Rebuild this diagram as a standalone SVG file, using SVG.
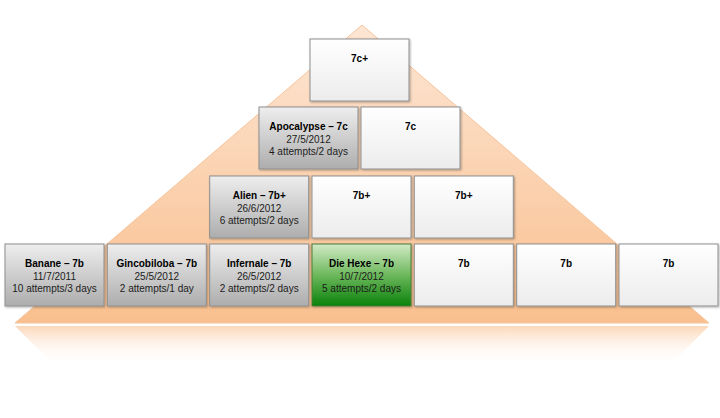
<svg xmlns="http://www.w3.org/2000/svg" width="720" height="418" viewBox="0 0 720 418">
  <style>
    .box { stroke: #8f8f8f; stroke-width: 1; filter: url(#shadow); }
    .gray { fill: url(#gGray); }
    .green { fill: url(#gGreen); stroke: #4a7a3a; }
    .white { fill: url(#gWhite); }
    text { font-family: "Liberation Sans", Arial, sans-serif; font-size: 10px; fill: #1c1c1c; text-anchor: middle; }
    .t { font-weight: bold; fill: #000; }
  </style>
  <defs>
    <linearGradient id="gPyr" x1="0" y1="0" x2="0" y2="1">
      <stop offset="0" stop-color="#fde6d4"/>
      <stop offset="1" stop-color="#f9bf8e"/>
    </linearGradient>
    <linearGradient id="gRefl" x1="0" y1="0" x2="0" y2="1">
      <stop offset="0" stop-color="#fcd3b2" stop-opacity="0.9"/>
      <stop offset="1" stop-color="#ffffff" stop-opacity="0"/>
    </linearGradient>
    <linearGradient id="gGray" x1="0" y1="0" x2="0" y2="1">
      <stop offset="0" stop-color="#eeeeee"/>
      <stop offset="1" stop-color="#adadad"/>
    </linearGradient>
    <linearGradient id="gGreen" x1="0" y1="0" x2="0" y2="1">
      <stop offset="0" stop-color="#d2eac6"/>
      <stop offset="0.5" stop-color="#6db85c"/>
      <stop offset="1" stop-color="#0a820a"/>
    </linearGradient>
    <linearGradient id="gWhite" x1="0" y1="0" x2="0" y2="1">
      <stop offset="0" stop-color="#ffffff"/>
      <stop offset="1" stop-color="#ececec"/>
    </linearGradient>
    <filter id="shadow" x="-10%" y="-10%" width="130%" height="130%">
      <feDropShadow dx="1" dy="1" stdDeviation="1" flood-color="#000" flood-opacity="0.3"/>
    </filter>
    <filter id="blur" x="-5%" y="-50%" width="110%" height="200%">
      <feGaussianBlur stdDeviation="1"/>
    </filter>
  </defs>

  <g id="pyramid">
    <polygon points="15,326 709,326 669,366 55,366" fill="url(#gRefl)"/>
    <line x1="16" y1="325" x2="708" y2="325" stroke="#b9b9b9" stroke-width="2" filter="url(#blur)"/>
    <polygon points="362,25 709,323 15,323" fill="url(#gPyr)" stroke="#f6c49c" stroke-width="1"/>
  </g>

  <g id="connectors"></g>

  <g id="n-7cplus">
    <rect class="box white" x="310" y="39" width="99" height="62"/>
    <text class="t" x="359.5" y="62">7c+</text>
  </g>

  <g id="n-apocalypse">
    <rect class="box gray" x="259" y="107" width="99" height="62"/>
    <text class="t" x="308.5" y="130">Apocalypse – 7c</text>
    <text x="308.5" y="143">27/5/2012</text>
    <text x="308.5" y="155">4 attempts/2 days</text>
  </g>
  <g id="n-7c">
    <rect class="box white" x="361" y="107" width="99" height="62"/>
    <text class="t" x="410.5" y="130">7c</text>
  </g>

  <g id="n-alien">
    <rect class="box gray" x="209.7" y="176" width="99" height="62"/>
    <text class="t" x="259.2" y="199">Alien – 7b+</text>
    <text x="259.2" y="212">26/6/2012</text>
    <text x="259.2" y="224">6 attempts/2 days</text>
  </g>
  <g id="n-7bplus-1">
    <rect class="box white" x="312" y="176" width="99" height="62"/>
    <text class="t" x="361.5" y="199">7b+</text>
  </g>
  <g id="n-7bplus-2">
    <rect class="box white" x="414.3" y="176" width="99" height="62"/>
    <text class="t" x="463.8" y="199">7b+</text>
  </g>

  <g id="n-banane">
    <rect class="box gray" x="5" y="244" width="99" height="62"/>
    <text class="t" x="54.5" y="267">Banane – 7b</text>
    <text x="54.5" y="280">11/7/2011</text>
    <text x="54.5" y="292">10 attempts/3 days</text>
  </g>
  <g id="n-gincobiloba">
    <rect class="box gray" x="107.3" y="244" width="99" height="62"/>
    <text class="t" x="156.8" y="267">Gincobiloba – 7b</text>
    <text x="156.8" y="280">25/5/2012</text>
    <text x="156.8" y="292">2 attempts/1 day</text>
  </g>
  <g id="n-infernale">
    <rect class="box gray" x="209.7" y="244" width="99" height="62"/>
    <text class="t" x="259.2" y="267">Infernale – 7b</text>
    <text x="259.2" y="280">26/5/2012</text>
    <text x="259.2" y="292">2 attempts/2 days</text>
  </g>
  <g id="n-diehexe">
    <rect class="box green" x="312" y="244" width="99" height="62"/>
    <text class="t" x="361.5" y="267">Die Hexe – 7b</text>
    <text x="361.5" y="280">10/7/2012</text>
    <text x="361.5" y="292">5 attempts/2 days</text>
  </g>
  <g id="n-7b-1">
    <rect class="box white" x="414.3" y="244" width="99" height="62"/>
    <text class="t" x="463.8" y="267">7b</text>
  </g>
  <g id="n-7b-2">
    <rect class="box white" x="516.7" y="244" width="99" height="62"/>
    <text class="t" x="566.2" y="267">7b</text>
  </g>
  <g id="n-7b-3">
    <rect class="box white" x="619" y="244" width="99" height="62"/>
    <text class="t" x="668.5" y="267">7b</text>
  </g>
</svg>
